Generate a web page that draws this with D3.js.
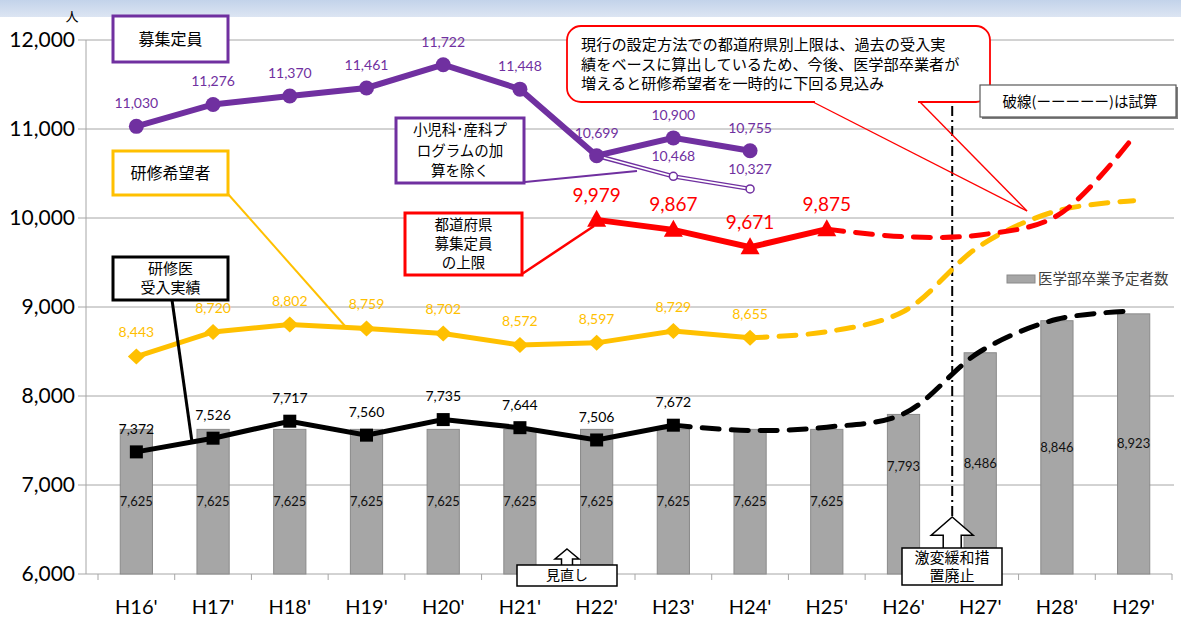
<!DOCTYPE html>
<html><head><meta charset="utf-8">
<script src="https://cdn.jsdelivr.net/npm/d3@7"></script>
<style>body{margin:0;background:#fff}svg{display:block}</style>
</head><body>
<svg id="chart" width="1181" height="619"></svg>
<script>
// ---- data ----
const categories = ["H16'","H17'","H18'","H19'","H20'","H21'","H22'","H23'","H24'","H25'","H26'","H27'","H28'","H29'"];
const yTicks = [6000,7000,8000,9000,10000,11000,12000];
const graduates = [7625,7625,7625,7625,7625,7625,7625,7625,7625,7625,7793,8486,8846,8923];
const quotaCats = ["H16'","H17'","H18'","H19'","H20'","H21'","H22'","H23'","H24'"];
const quota = [11030,11276,11370,11461,11722,11448,10699,10900,10755];
const quotaExclCats = ["H22'","H23'","H24'"];
const quotaExcl = [10699,10468,10327];
const applicantCats = ["H16'","H17'","H18'","H19'","H20'","H21'","H22'","H23'","H24'"];
const applicants = [8443,8720,8802,8759,8702,8572,8597,8729,8655];
const applicantEstCats = ["H24'","H25'","H26'","H27'","H28'","H29'"];
const applicantEst = [8655,8722,8950,9690,10080,10195];
const capCats = ["H22'","H23'","H24'","H25'"];
const cap = [9979,9867,9671,9875];
const capEstCats = ["H25'","H26'","H27'","H28'","H29'"];
const capEst = [9875,9790,9810,10025,10914];
const acceptedCats = ["H16'","H17'","H18'","H19'","H20'","H21'","H22'","H23'"];
const accepted = [7372,7526,7717,7560,7735,7644,7506,7672];
const acceptedEstCats = ["H23'","H24'","H25'","H26'","H27'","H28'","H29'"];
const acceptedEst = [7672,7612,7650,7800,8500,8862,8955];

const PURPLE="#7030a0", GOLD="#ffc000", RED="#ff0000", BLACK="#000";
const NUM="Lato, 'Liberation Sans', sans-serif";
const JP="'Noto Sans CJK JP', sans-serif";

const svg = d3.select("#chart");
const defs = svg.append("defs");
const grad = defs.append("linearGradient").attr("id","ban").attr("x1",0).attr("x2",0).attr("y1",0).attr("y2",1);
grad.append("stop").attr("offset","0%").attr("stop-color","#c3d3ea");
grad.append("stop").attr("offset","100%").attr("stop-color","#dce5f3");

// ---- scales ----
const x = d3.scaleBand().domain(categories).range([98,1172]).padding(0);
const cx = c => x(c) + x.bandwidth()/2;
const y = d3.scaleLinear().domain([6000,12000]).range([574,40]);
const barW = x.bandwidth()*0.42;

// banner
svg.append("rect").attr("x",0).attr("y",0).attr("width",1181).attr("height",17).attr("fill","url(#ban)");

// gridlines + y axis
const g = svg.append("g");
g.selectAll(".grid").data(yTicks.filter(t=>t>6000)).join("line")
  .attr("x1",78).attr("x2",1174).attr("y1",d=>y(d)).attr("y2",d=>y(d))
  .attr("stroke","#a6a6a6").attr("stroke-width",1);
g.append("line").attr("x1",86).attr("x2",86).attr("y1",y(12000)).attr("y2",y(6000)).attr("stroke","#a6a6a6");
g.append("line").attr("x1",78).attr("x2",86).attr("y1",y(6000)).attr("y2",y(6000)).attr("stroke","#a6a6a6");
g.selectAll(".yl").data(yTicks).join("text")
  .attr("x",75).attr("y",d=>y(d)).attr("dy","0.35em").attr("text-anchor","end")
  .attr("font-family",NUM).attr("font-size",21).attr("fill","#000")
  .text(d=>d3.format(",")(d));
svg.append("text").attr("x",72).attr("y",16).attr("dy","0.35em").attr("text-anchor","middle")
  .attr("font-family",JP).attr("font-size",13).text("人");

// x axis
const xa = svg.append("g").attr("transform","translate(0,574)")
  .call(d3.axisBottom(x).tickSize(0).tickFormat(""));
xa.select(".domain").attr("stroke","#a6a6a6").attr("d","M86,0H1172");
xa.selectAll(".bnd").data(categories.concat(["__end"])).join("line")
  .attr("x1",(d,i)=>x.range()[0]+i*x.step()).attr("x2",(d,i)=>x.range()[0]+i*x.step())
  .attr("y1",0).attr("y2",6).attr("stroke","#a6a6a6");
svg.selectAll(".xl").data(categories).join("text")
  .attr("x",d=>cx(d)).attr("y",607).attr("dy","0.35em").attr("text-anchor","middle")
  .attr("font-family",NUM).attr("font-size",20).attr("fill","#000").text(d=>d);

// bars
svg.selectAll(".bar").data(graduates).join("rect")
  .attr("x",(d,i)=>cx(categories[i])-barW/2).attr("width",barW)
  .attr("y",d=>y(d)).attr("height",d=>y(6000)-y(d))
  .attr("fill","#a6a6a6").attr("stroke","#8a8a8a").attr("stroke-width",1);
svg.selectAll(".bl").data(graduates).join("text")
  .attr("x",(d,i)=>cx(categories[i]))
  .attr("y",(d,i)=> categories[i]==="H26'" ? y(d)+52 : y((6000+d)/2))
  .attr("dy","0.35em").attr("text-anchor","middle")
  .attr("font-family",NUM).attr("font-size",13).attr("fill","#111")
  .text(d=>d3.format(",")(d));

// dash-dot vertical
const vx = cx("H27'") - 28;
svg.append("line").attr("x1",vx).attr("x2",vx).attr("y1",106).attr("y2",516)
  .attr("stroke","#000").attr("stroke-width",2).attr("stroke-dasharray","10,4,2,4");

// line helpers
function path(cats, vals, curve){
  return d3.line().x((d,i)=>cx(cats[i])).y(d=>y(d)).curve(curve||d3.curveLinear)(vals);
}
const smooth = d3.curveCatmullRom.alpha(0.5);
// estimated dashed lines
[[acceptedEstCats,acceptedEst,BLACK],[applicantEstCats,applicantEst,GOLD],[capEstCats,capEst,RED]].forEach(([c,v,col])=>{
  svg.append("path").attr("d",path(c,v,smooth)).attr("fill","none").attr("stroke",col)
    .attr("stroke-width",5).attr("stroke-dasharray","17,12").attr("stroke-linecap","round");
});

// quota excluding line (double)
svg.append("path").attr("d",path(quotaExclCats,quotaExcl)).attr("fill","none").attr("stroke",PURPLE).attr("stroke-width",4.5);
svg.append("path").attr("d",path(quotaExclCats,quotaExcl)).attr("fill","none").attr("stroke","#fff").attr("stroke-width",1.6);
svg.selectAll(".qe").data(quotaExcl.slice(1)).join("circle")
  .attr("cx",(d,i)=>cx(quotaExclCats[i+1])).attr("cy",d=>y(d)).attr("r",4)
  .attr("fill","#fff").attr("stroke",PURPLE).attr("stroke-width",1.5);

// solid lines
svg.append("path").attr("d",path(acceptedCats,accepted)).attr("fill","none").attr("stroke",BLACK).attr("stroke-width",5);
svg.append("path").attr("d",path(applicantCats,applicants)).attr("fill","none").attr("stroke",GOLD).attr("stroke-width",5);
svg.append("path").attr("d",path(capCats,cap)).attr("fill","none").attr("stroke",RED).attr("stroke-width",6);
svg.append("path").attr("d",path(quotaCats,quota)).attr("fill","none").attr("stroke",PURPLE).attr("stroke-width",6);

// markers
svg.selectAll(".mq").data(quota).join("circle")
  .attr("cx",(d,i)=>cx(quotaCats[i])).attr("cy",d=>y(d)).attr("r",7.5).attr("fill",PURPLE);
svg.selectAll(".ma").data(applicants).join("path")
  .attr("transform",(d,i)=>`translate(${cx(applicantCats[i])},${y(d)})`)
  .attr("d","M0,-8L8.5,0L0,8L-8.5,0Z").attr("fill",GOLD);
svg.selectAll(".mc").data(cap).join("path")
  .attr("transform",(d,i)=>`translate(${cx(capCats[i])},${y(d)})`)
  .attr("d","M0,-10L9.5,7L-9.5,7Z").attr("fill",RED);
svg.selectAll(".mr").data(accepted).join("rect")
  .attr("x",(d,i)=>cx(acceptedCats[i])-6.5).attr("y",d=>y(d)-6.5)
  .attr("width",13).attr("height",13).attr("fill",BLACK);

// labels
function labels(cats, vals, off, col, size){
  svg.append("g").selectAll("text").data(vals).join("text")
    .attr("x",(d,i)=>cx(cats[i])).attr("y",d=>y(d)+off).attr("dy","0.35em")
    .attr("text-anchor","middle").attr("font-family",NUM).attr("font-size",size).attr("fill",col)
    .text(d=>d3.format(",")(d));
}
labels(quotaCats,quota,-23,PURPLE,14);
labels(quotaExclCats.slice(1),quotaExcl.slice(1),-20,PURPLE,14);
labels(applicantCats,applicants,-24,GOLD,14);
labels(capCats,cap,-25,RED,19);
labels(acceptedCats,accepted,-23,BLACK,14);

// ---- callouts ----
function box(x0,y0,w,h,col,sw,lines,fs,lh,rx){
  svg.append("rect").attr("x",x0).attr("y",y0).attr("width",w).attr("height",h)
    .attr("rx",rx||0).attr("fill","#fff").attr("stroke",col).attr("stroke-width",sw);
  const cy0 = y0 + h/2 - (lines.length-1)*lh/2;
  lines.forEach((t,i)=>svg.append("text").attr("x",x0+w/2).attr("y",cy0+i*lh).attr("dy","0.35em")
    .attr("text-anchor","middle").attr("font-family",JP).attr("font-size",fs).attr("fill","#000").text(t));
}
function seg(x1,y1,x2,y2,col,w){
  svg.append("line").attr("x1",x1).attr("y1",y1).attr("x2",x2).attr("y2",y2).attr("stroke",col).attr("stroke-width",w);
}
// leader lines
seg(228,194,345,326,GOLD,2);
seg(172,300,192,442,BLACK,3);
seg(525,182,637,171,PURPLE,2);
seg(522,274,594,226,RED,2.5);

box(113,16,115,46,PURPLE,3,["募集定員"],16,20);
box(113,151,115,44,GOLD,3,["研修希望者"],16,20);
box(396,118,128,65,PURPLE,3,["小児科･産科プ","ログラムの加","算を除く"],14.5,20.5);
box(405,213,117,62,RED,3,["都道府県","募集定員","の上限"],14.5,19);
box(113,257,115,43,BLACK,3,["研修医","受入実績"],15,19);

// top red callout
svg.append("rect").attr("x",567).attr("y",26).attr("width",423).attr("height",76).attr("rx",14)
  .attr("fill","#fff").attr("stroke",RED).attr("stroke-width",1.8);
svg.append("line").attr("x1",815).attr("x2",918).attr("y1",102).attr("y2",102).attr("stroke","#fff").attr("stroke-width",3);
seg(813,102,1027,211,RED,1.4);
seg(920,102,1027,211,RED,1.4);
["現行の設定方法での都道府県別上限は、過去の受入実","績をベースに算出しているため、今後、医学部卒業者が","増えると研修希望者を一時的に下回る見込み"].forEach((t,i)=>
  svg.append("text").attr("x",581).attr("y",45+i*19.5).attr("dy","0.35em")
    .attr("font-family",JP).attr("font-size",15.2).attr("fill","#000").text(t));

// dashed-line note box
svg.append("rect").attr("x",982).attr("y",87).attr("width",196).attr("height",32).attr("fill","#7f7f7f");
svg.append("rect").attr("x",980).attr("y",85).attr("width",196).attr("height",32).attr("fill","#fff").attr("stroke","#595959").attr("stroke-width",1.2);
svg.append("text").attr("x",1080).attr("y",102).attr("dy","0.35em").attr("text-anchor","middle")
  .attr("font-family",JP).attr("font-size",14.5).attr("fill","#000").text("破線(ーーーーー)は試算");

// legend
svg.append("rect").attr("x",1007).attr("y",275).attr("width",28).attr("height",8).attr("fill","#a6a6a6").attr("stroke","#8a8a8a");
svg.append("text").attr("x",1038).attr("y",279).attr("dy","0.35em").attr("font-family",JP)
  .attr("font-size",14.5).attr("fill","#404040").text("医学部卒業予定者数");

// arrow boxes
function upArrow(ax,tipY,baseY,hw,sw){
  const p = `M${ax},${tipY}L${ax+hw},${tipY+(baseY-tipY)*0.55}L${ax+sw},${tipY+(baseY-tipY)*0.55}L${ax+sw},${baseY}L${ax-sw},${baseY}L${ax-sw},${tipY+(baseY-tipY)*0.55}L${ax-hw},${tipY+(baseY-tipY)*0.55}Z`;
  svg.append("path").attr("d",p).attr("fill","#fff").attr("stroke","#000").attr("stroke-width",1.5);
}
upArrow(vx,517,550,21,9);
box(902,548,100,37,"#000",1.5,["激変緩和措","置廃止"],15,18.5);
upArrow(567,549,567,12,5.5);
box(517,565,100,21,"#000",1.5,["見直し"],14,18);
</script>
</body></html>
